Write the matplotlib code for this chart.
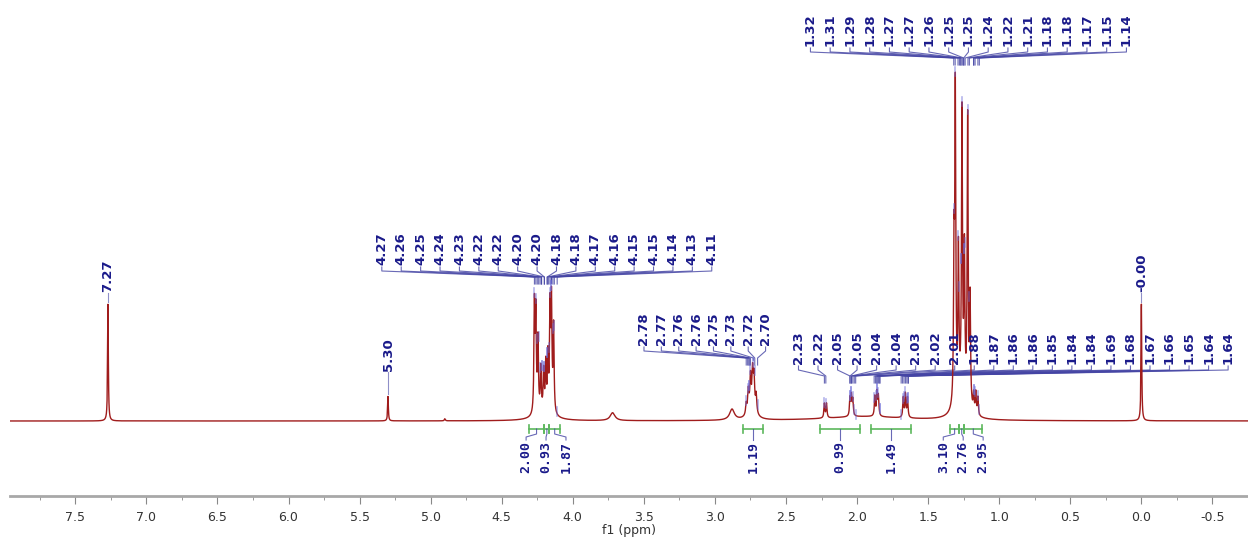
import numpy as np
import matplotlib.pyplot as plt

plt.rcParams['axes.unicode_minus'] = False

# picked lines of the 1H spectrum: position (ppm), height, half width
peak_ppm = [7.27, 5.30, 4.90,
            4.27, 4.26, 4.245, 4.225, 4.205, 4.19, 4.175, 4.16, 4.15, 4.135, 4.20,
            3.72, 2.88,
            2.78, 2.765, 2.75, 2.735, 2.725, 2.71, 2.74,
            2.23, 2.215, 2.05, 2.04, 2.03, 1.875, 1.86, 1.85, 1.675, 1.66, 1.645, 1.95,
            1.318, 1.309, 1.287, 1.262, 1.245, 1.222, 1.205, 1.27,
            1.18, 1.165, 1.15, 0.00]
peak_height = [0.325, 0.068, 0.006,
               0.30, 0.27, 0.20, 0.12, 0.11, 0.13, 0.15, 0.28, 0.30, 0.24, 0.02,
               0.022, 0.03,
               0.03, 0.06, 0.09, 0.10, 0.09, 0.05, 0.03,
               0.04, 0.04, 0.05, 0.055, 0.045, 0.055, 0.065, 0.055, 0.055, 0.065, 0.055, 0.012,
               0.40, 0.85, 0.40, 0.78, 0.40, 0.80, 0.30, 0.06,
               0.05, 0.06, 0.05, 0.325]
peak_width = [0.003, 0.003, 0.004,
              0.004, 0.004, 0.004, 0.004, 0.004, 0.004, 0.004, 0.004, 0.004, 0.004, 0.07,
              0.02, 0.02,
              0.005, 0.005, 0.005, 0.005, 0.005, 0.005, 0.03,
              0.004, 0.004, 0.004, 0.004, 0.004, 0.004, 0.004, 0.004, 0.004, 0.004, 0.004, 0.35,
              0.004, 0.004, 0.004, 0.004, 0.004, 0.004, 0.004, 0.04,
              0.004, 0.004, 0.004, 0.003]

# peak labels (groups as in the picture)
labels_top = ['1.32', '1.31', '1.29', '1.28', '1.27', '1.27', '1.26', '1.25', '1.25',
              '1.24', '1.22', '1.21', '1.18', '1.18', '1.17', '1.15', '1.14']
labels_42 = ['4.27', '4.26', '4.25', '4.24', '4.23', '4.22', '4.22', '4.20', '4.20',
             '4.18', '4.18', '4.17', '4.16', '4.15', '4.15', '4.14', '4.13', '4.11']
labels_27 = ['2.78', '2.77', '2.76', '2.76', '2.75', '2.73', '2.72', '2.70']
labels_low = ['2.23', '2.22', '2.05', '2.05', '2.04', '2.04', '2.03', '2.02', '2.01',
              '1.88', '1.87', '1.86', '1.86', '1.85', '1.84', '1.84', '1.69', '1.68',
              '1.67', '1.66', '1.65', '1.64', '1.64']
labels_single = ['7.27', '5.30', '-0.00']

# integrals
int_start = [4.31, 4.20, 4.165, 2.80, 2.26, 1.90, 1.345, 1.283, 1.245]
int_end = [4.20, 4.165, 4.09, 2.66, 1.98, 1.62, 1.283, 1.245, 1.12]
int_values = ['2.00', '0.93', '1.87', '1.19', '0.99', '1.49', '3.10', '2.76', '2.95']

RED = '#a01c1c'
NAVY = '#1a1a8a'
LINK = '#4444a4'
MARK = '#6a6ad8'
GREEN = '#5cb85c'

ppm = np.arange(-0.8, 8.0, 0.0005)
spec = np.zeros_like(ppm)
for c, h, w in zip(peak_ppm, peak_height, peak_width):
    spec += h / (1 + ((ppm - c) / w) ** 2)


def top(v):
    m = np.abs(ppm - v) < 0.004
    return spec[m].max()


# pixel helpers for layout (figure 1248 x 542)
def X(px):
    return (1145 - px) / 142.6


def Y(py):
    return (421 - py) / 359


PX = 1 / 359

fig = plt.figure(figsize=(12.48, 5.42), dpi=100)
ax = fig.add_axes([10 / 1248, 46 / 542, 1238 / 1248, 496 / 542])
ax.set_xlim(X(10), X(1248))
ax.set_ylim(Y(496), Y(0))


def peak_mark(v):
    t = top(v)
    ax.plot([v, v], [t - 4 * PX, t + 5 * PX], color=MARK, lw=1.2, alpha=0.5, zorder=3)


def label_group(labels, x0, x1, ytext, yfan):
    xs = np.linspace(X(x0), X(x1), len(labels))
    for lx, lab in zip(xs, labels):
        v = abs(float(lab))
        ax.text(lx, Y(ytext), lab, rotation=90, ha='center', va='bottom',
                fontsize=9.5, fontweight='bold', color=NAVY)
        ybot = max(Y(yfan + 7), top(v) + 3 * PX)
        ax.plot([lx, lx, v, v], [Y(ytext + 2), Y(ytext + 6), Y(yfan), ybot],
                color=LINK, lw=0.8, alpha=0.8)
        peak_mark(v)


label_group(labels_top, 813, 1130, 46, 58)
label_group(labels_42, 383, 714, 265, 277)
label_group(labels_27, 646, 768, 345, 358)
label_group(labels_low, 801, 1232, 364, 376)

single_text_px = [292, 371, 292]
for lab, ty in zip(labels_single, single_text_px):
    v = float(lab)
    ax.text(v, Y(ty), lab, rotation=90, ha='center', va='bottom',
            fontsize=9.5, fontweight='bold', color=NAVY)
    ax.plot([v, v], [Y(ty + 1), top(abs(v)) + 2 * PX], color=LINK, lw=0.8, alpha=0.6)

ax.plot(ppm, spec, color=RED, lw=1.0, zorder=2)

# integrals
ybar = Y(429)
tick = 4 * PX
groups = [[0, 1, 2], [3], [4], [5], [6, 7, 8]]
for g in groups:
    centers = [(int_start[i] + int_end[i]) / 2 for i in g]
    if len(g) == 1:
        lxs = centers
    else:
        mid = np.mean(centers)
        step = 20 / 142.6
        lxs = [mid + step, mid, mid - step]
    for i, cx, lx in zip(g, centers, lxs):
        ax.plot([int_start[i], int_end[i]], [ybar, ybar], color=GREEN, lw=1.2)
        for e in (int_start[i], int_end[i]):
            ax.plot([e, e], [ybar - tick, ybar + tick], color=GREEN, lw=1.2)
        ax.text(lx, Y(441), int_values[i], rotation=90, ha='center', va='top',
                fontsize=9.5, fontweight='bold', color=NAVY, family='DejaVu Sans Mono')
        ax.plot([lx, lx, cx, cx], [Y(440), Y(437), Y(434), ybar],
                color=LINK, lw=0.8, alpha=0.8)

for s in ['left', 'right', 'top']:
    ax.spines[s].set_visible(False)
ax.spines['bottom'].set_color('#a8a8a8')
ax.spines['bottom'].set_linewidth(2)
ax.set_yticks([])
ax.set_xticks(np.arange(7.5, -0.6, -0.5))
ax.set_xticks(np.arange(7.75, -0.8, -0.25), minor=True)
ax.xaxis.set_major_formatter(plt.FormatStrFormatter('%.1f'))
ax.tick_params(axis='x', which='major', length=6, color='#888888', labelsize=9,
               labelcolor='#333333', pad=5)
ax.tick_params(axis='x', which='minor', length=3, color='#888888')
ax.set_xlabel('f1 (ppm)', fontsize=9, color='#333333', labelpad=0)

fig.savefig('out.png', dpi=100)
